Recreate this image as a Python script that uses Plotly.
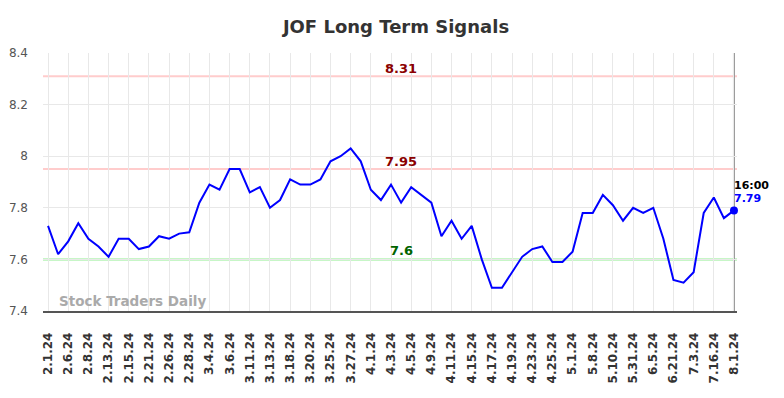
import plotly.graph_objects as go

dates = ["2.1.24","2.5.24","2.6.24","2.7.24","2.8.24","2.12.24","2.13.24","2.14.24","2.15.24","2.20.24",
         "2.21.24","2.23.24","2.26.24","2.27.24","2.28.24","3.1.24","3.4.24","3.5.24","3.6.24","3.8.24",
         "3.11.24","3.12.24","3.13.24","3.15.24","3.18.24","3.19.24","3.20.24","3.22.24","3.25.24","3.26.24",
         "3.27.24","3.28.24","4.1.24","4.2.24","4.3.24","4.4.24","4.5.24","4.8.24","4.9.24","4.10.24",
         "4.11.24","4.12.24","4.15.24","4.16.24","4.17.24","4.18.24","4.19.24","4.22.24","4.23.24","4.24.24",
         "4.25.24","4.29.24","5.1.24","5.6.24","5.8.24","5.9.24","5.10.24","5.20.24","5.31.24","6.3.24",
         "6.5.24","6.13.24","6.21.24","6.27.24","7.3.24","7.10.24","7.16.24","7.24.24","8.1.24"]
prices = [7.73,7.62,7.67,7.74,7.68,7.65,7.61,7.68,7.68,7.64,
          7.65,7.69,7.68,7.70,7.705,7.82,7.89,7.87,7.95,7.95,
          7.86,7.88,7.80,7.83,7.91,7.89,7.89,7.91,7.98,8.00,
          8.03,7.98,7.87,7.83,7.89,7.82,7.88,7.85,7.82,7.69,
          7.75,7.68,7.73,7.60,7.49,7.49,7.55,7.61,7.64,7.65,
          7.59,7.59,7.63,7.78,7.78,7.85,7.81,7.75,7.80,7.78,
          7.80,7.68,7.52,7.51,7.55,7.78,7.84,7.76,7.79]
tick_labels = dates[::2]
resistance_levels = [8.31, 7.95]
support_levels = [7.6]
last_time = "16:00"

fig = go.Figure()
fig.add_trace(go.Scatter(x=dates, y=prices, mode="lines",
                         line=dict(color="#0000ff", width=2), hoverinfo="skip"))
fig.add_trace(go.Scatter(x=[dates[-1]], y=[prices[-1]], mode="markers", cliponaxis=False,
                         marker=dict(color="#0000ff", size=8), hoverinfo="skip"))

for lvl in resistance_levels:
    fig.add_shape(type="line", xref="paper", x0=0, x1=1, yref="y", y0=lvl, y1=lvl,
                  line=dict(color="#ffcccc", width=2), layer="below")
    fig.add_annotation(xref="paper", x=0.516, y=lvl, yref="y", text="<b>%s</b>" % lvl,
                       showarrow=False, yanchor="bottom", yshift=-2,
                       font=dict(color="#8b0000", size=13, family="DejaVu Sans"))
for lvl in support_levels:
    fig.add_shape(type="line", xref="paper", x0=0, x1=1, yref="y", y0=lvl, y1=lvl,
                  line=dict(color="#90ee90", width=2), layer="below")
    fig.add_annotation(xref="paper", x=0.516, y=lvl, yref="y", text="<b>%s</b>" % lvl,
                       showarrow=False, yanchor="bottom", yshift=-1,
                       font=dict(color="#006400", size=13, family="DejaVu Sans"))

fig.add_shape(type="line", xref="x", x0=dates[-1], x1=dates[-1], yref="paper", y0=0, y1=1,
              line=dict(color="#999999", width=2), layer="below")

fig.add_annotation(x=dates[-1], y=prices[-1], text="<b>%s</b>" % last_time, showarrow=False,
                   xanchor="left", yanchor="bottom", xshift=-2, yshift=16,
                   font=dict(color="#000000", size=11, family="DejaVu Sans"))
fig.add_annotation(x=dates[-1], y=prices[-1], text="<b>%.2f</b>" % prices[-1], showarrow=False,
                   xanchor="left", yanchor="bottom", xshift=-2, yshift=3,
                   font=dict(color="#0000ff", size=11, family="DejaVu Sans"))

fig.add_annotation(xref="paper", yref="paper", x=0.02, y=0.0, text="<b>Stock Traders Daily</b>",
                   showarrow=False, xanchor="left", yanchor="bottom", yshift=0,
                   font=dict(color="#aaaaaa", size=13.5, family="DejaVu Sans"))

fig.update_layout(
    width=776, height=390,
    margin=dict(l=35, r=47, t=45, b=87, autoexpand=False),
    paper_bgcolor="white", plot_bgcolor="white",
    showlegend=False,
    title=dict(text="<b>JOF Long Term Signals</b>", x=0.5, xanchor="center",
               y=1 - 19 / 390, yanchor="middle",
               font=dict(size=18, color="#333333", family="DejaVu Sans")),
    xaxis=dict(type="category", tickmode="array", tickvals=tick_labels,
               ticktext=["<b>%s</b>" % t for t in tick_labels], tickangle=-90,
               tickfont=dict(size=12, color="#333333", family="DejaVu Sans"),
               range=[-0.5, 68.3], showgrid=True, gridcolor="#e8e8e8", gridwidth=1,
               showline=True, linecolor="#555555", linewidth=1.5, ticks="", zeroline=False,
               ticklabelstandoff=15, automargin=False),
    yaxis=dict(range=[7.4, 8.4], tickvals=[7.4, 7.6, 7.8, 8.0, 8.2, 8.4],
               ticktext=["7.4", "7.6", "7.8", "8", "8.2", "8.4"],
               tickfont=dict(size=12, color="#555555", family="DejaVu Sans"),
               showgrid=True, gridcolor="#e8e8e8", gridwidth=1, zeroline=False, ticks="",
               ticklabelstandoff=14, automargin=False),
)

fig.write_html("out.html")
